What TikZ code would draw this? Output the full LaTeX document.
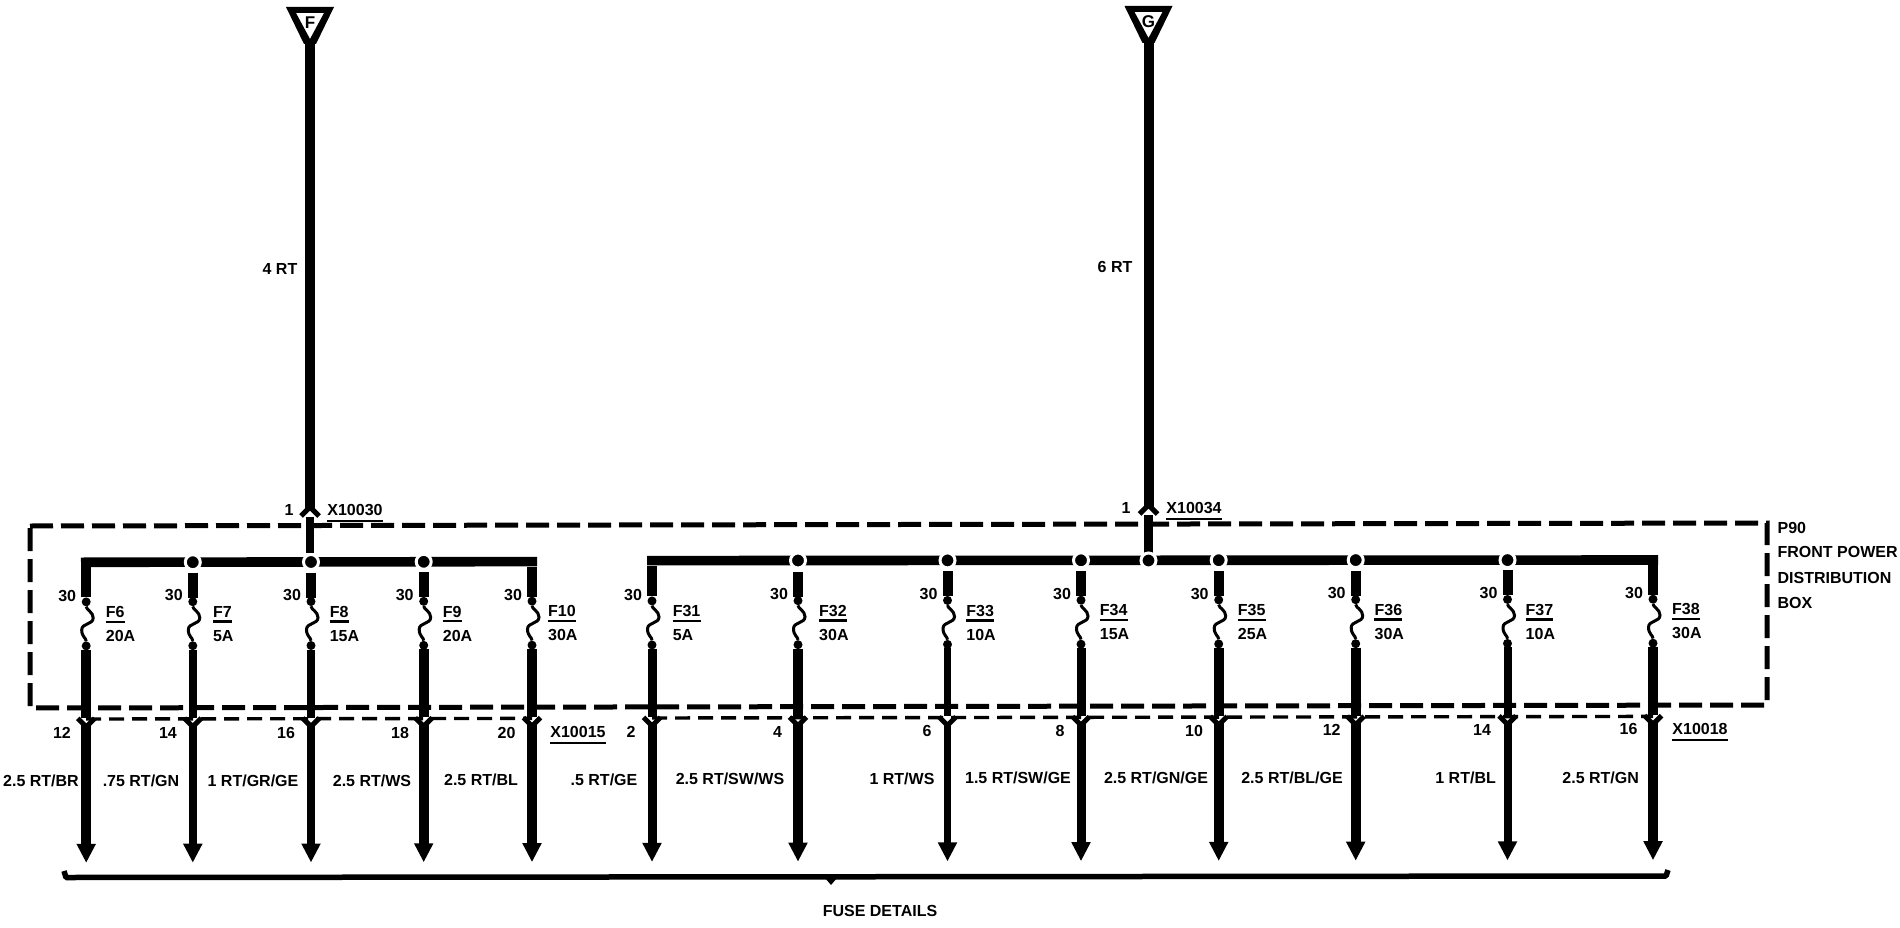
\documentclass[tikz,border=0pt]{standalone}
\usepackage{fontspec}
\setmainfont{Liberation Sans}
\usetikzlibrary{arrows.meta}
\tikzset{
  lab/.style={font=\fontsize{16}{16}\selectfont\bfseries,inner sep=0pt,text height=11.5pt,text depth=0pt},
  wire/.style={line width=#1,line cap=butt},
  wire/.default=10pt,
  feed/.style={wire=#1,-{Triangle[length=19pt,width=18pt]}},
  busline/.style={line width=9.6pt,line join=miter},
  jdot/.style={circle,fill=black,draw=white,line width=3pt,minimum size=15pt,inner sep=0pt},
  fdot/.style={circle,fill=black,minimum size=9pt,inner sep=0pt},
  link/.style={line width=3pt},
  boxdash/.style={line width=5pt,dash pattern=on 23pt off 8pt},
  pindash/.style={line width=3.4pt,dash pattern=on 15pt off 8pt},
  rulel/.style={line width=2.4pt},
  chev/.style={line width=5pt,line join=miter},
}
% id, x, lower wire width, fuse, rating, label offset, has junction dot
\newcommand\fusecol[7]{%
  \pgfmathsetmacro\sk{-3*(#2-30)/1740}
  \coordinate (bus#1) at (#2,{562+\sk});
  \coordinate (up#1) at (#2,{573+\sk});
  \coordinate (upe#1) at (#2,{598+\sk});
  \node[fdot] (ft#1) at (#2,{602+\sk}) {};
  \node[fdot] (fb#1) at (#2,{646+\sk}) {};
  \coordinate (lo#1) at (#2,{650+\sk});
  \coordinate (loe#1) at (#2,{718+\sk});
  \coordinate (yj#1) at (#2,{725+\sk});
  \coordinate (tip#1) at (#2,{863+\sk});
  \ifnum#7=1
    \draw[wire] (up#1) -- (upe#1);
  \fi
  \draw[link] (ft#1) .. controls (#2,{610+\sk}) and ({#2+7},{612+\sk}) .. ({#2+7},{618+\sk})
     .. controls ({#2+7},{625+\sk}) and ({#2-4.5},{623+\sk}) .. ({#2-4.5},{630+\sk})
     .. controls ({#2-4.5},{637+\sk}) and (#2,{638+\sk}) .. (fb#1);
  \draw[wire=#3] (lo#1) -- (loe#1);
  \draw[chev] ({#2-8.5},{718.5+\sk}) -- (#2,{727+\sk}) -- ({#2+8.5},{718.5+\sk});
  \draw[feed=#3] (yj#1) -- (tip#1);
  \node[lab] (th#1) at ({#2-19},{595.5+\sk}) {30};
  \node[lab,anchor=west] (fn#1) at ({#2+#6},{612+\sk}) {#4};
  \draw[rulel] ([yshift=-4pt]fn#1.south west) -- ([yshift=-4pt]fn#1.south east);
  \node[lab,anchor=west] (fr#1) at ({#2+#6},{636+\sk}) {#5};
}
% id, x, letter, top, chevron wing y
\newcommand\inpin[5]{%
  \fill[even odd rule] ({#2-24},#4) -- ({#2+24},#4) -- ({#2+6},{#4+37}) -- ({#2-6},{#4+37}) -- cycle
     ({#2-14},{#4+6}) -- ({#2+14},{#4+6}) -- (#2,{#4+32}) -- cycle;
  \node[lab,font=\fontsize{17}{17}\selectfont\bfseries] (t#1) at (#2,{#4+16}) {#3};
  \coordinate (w#1a) at (#2,{#4+35});
  \coordinate (w#1b) at (#2,{#5-6});
  \draw[wire] (w#1a) -- (w#1b);
  \draw[chev] ({#2-9},#5) -- (#2,{#5-9}) -- ({#2+9},#5);
  \coordinate (w#1c) at (#2,{#5+1});
  \coordinate (w#1d) at (#2,553);
  \draw[wire=8.5pt] (w#1c) -- (w#1d);
}
\begin{document}
\begin{tikzpicture}[x=1pt,y=-1pt]
\useasboundingbox (0,0) rectangle (1900,928);
\fill[white] (0,0) rectangle (1900,928);
% box
\coordinate (bxa) at (30,526);
\coordinate (bxb) at (1767,523);
\coordinate (bxc) at (1767,705);
\coordinate (bxd) at (30,708);
\draw[boxdash] (bxa) -- (bxb) -- (bxc) -- (bxd) -- cycle;
\draw[pindash] (86,719) -- (532,718.4);
\draw[pindash] (652,718) -- (1653,716.4);
% busses
\coordinate (b1a) at (86,597); \coordinate (b1b) at (86,562.3);
\coordinate (b1c) at (532,562); \coordinate (b1d) at (532,597);
\draw[wire] (b1a) -- (86,567);
\draw[wire] (b1d) -- (532,567);
\draw[busline] (81,562.3) -- (537,561.6);
\coordinate (b2a) at (652,596); \coordinate (b2d) at (1653,595);
\draw[wire] (b2a) -- (652,566);
\draw[wire] (b2d) -- (1653,565);
\draw[busline] (647,560.6) -- (1658,560);
% inputs
\inpin{F}{310}{F}{7}{516}
\inpin{G}{1148.5}{G}{6}{514}
% fuse columns
\fusecol{a}{86.2}{10pt}{F6}{20A}{19.5}{0}
\fusecol{b}{192.8}{8pt}{F7}{5A}{20}{1}
\fusecol{c}{311}{8pt}{F8}{15A}{18.6}{1}
\fusecol{d}{423.7}{10pt}{F9}{20A}{19}{1}
\fusecol{e}{532}{9.5pt}{F10}{30A}{16}{0}
\fusecol{f}{652}{9pt}{F31}{5A}{20.6}{0}
\fusecol{g}{798}{10pt}{F32}{30A}{21}{1}
\fusecol{h}{947.5}{7.5pt}{F33}{10A}{18.7}{1}
\fusecol{i}{1081}{9pt}{F34}{15A}{18.7}{1}
\fusecol{j}{1218.7}{10pt}{F35}{25A}{19}{1}
\fusecol{k}{1355.7}{10pt}{F36}{30A}{18.7}{1}
\fusecol{l}{1507.5}{8pt}{F37}{10A}{18}{1}
\fusecol{m}{1653}{10pt}{F38}{30A}{19}{0}
% junction dots
\foreach \n/\xx/\yy in {b/192.8/562.2,c/311/562,d/423.7/561.8,g/798/560.5,h/947.5/560.4,i/1081/560.3,gg/1148.5/560.5,j/1218.7/560.2,k/1355.7/560.1,l/1507.5/560.1}
  \node[jdot] (dot\n) at (\xx,\yy) {};
% connector labels
\node[lab] (p1) at (289,510) {1};
\node[lab] (xa) at (355,510) {X10030};
\draw[rulel] ([yshift=-5pt]xa.south west) -- ([yshift=-5pt]xa.south east);
\node[lab] (p2) at (1126,508) {1};
\node[lab] (xb) at (1194,508) {X10034};
\draw[rulel] ([yshift=-5pt]xb.south west) -- ([yshift=-5pt]xb.south east);
\node[lab] (xc) at (578,732) {X10015};
\draw[rulel] ([yshift=-5pt]xc.south west) -- ([yshift=-5pt]xc.south east);
\node[lab] (xd) at (1700,729) {X10018};
\draw[rulel] ([yshift=-5pt]xd.south west) -- ([yshift=-5pt]xd.south east);
\node[lab] (rt4) at (280,269) {4 RT};
\node[lab] (rt6) at (1115,267) {6 RT};
% pin numbers
\node[lab] (n12) at (62,733) {12};
\node[lab] (n14) at (168,733) {14};
\node[lab] (n16) at (286,733) {16};
\node[lab] (n18) at (400,733) {18};
\node[lab] (n20) at (506.6,732.5) {20};
\node[lab] (n2) at (631,731.7) {2};
\node[lab] (n4) at (777.5,731.5) {4};
\node[lab] (n6) at (927,731) {6};
\node[lab] (n8) at (1060,731) {8};
\node[lab] (n10) at (1194,730.5) {10};
\node[lab] (n12b) at (1331.7,730) {12};
\node[lab] (n14b) at (1482,730) {14};
\node[lab] (n16b) at (1628.5,729) {16};
% wire labels
\node[lab] (w1) at (41,780.7) {2.5 RT/BR};
\node[lab] (w2) at (141,780.7) {.75 RT/GN};
\node[lab] (w3) at (253,780.5) {1 RT/GR/GE};
\node[lab] (w4) at (372,780.3) {2.5 RT/WS};
\node[lab] (w5) at (481,780) {2.5 RT/BL};
\node[lab] (w6) at (604,779.5) {.5 RT/GE};
\node[lab] (w7) at (730,778.5) {2.5 RT/SW/WS};
\node[lab] (w8) at (902,778.3) {1 RT/WS};
\node[lab] (w9) at (1018,778) {1.5 RT/SW/GE};
\node[lab] (w10) at (1156,778) {2.5 RT/GN/GE};
\node[lab] (w11) at (1292,777.7) {2.5 RT/BL/GE};
\node[lab] (w12) at (1465.6,777.7) {1 RT/BL};
\node[lab] (w13) at (1600.7,777.7) {2.5 RT/GN};
% box labels
\node[lab,anchor=west] (box1) at (1777.4,528) {P90};
\node[lab,anchor=west] (box2) at (1777.4,552) {FRONT POWER};
\node[lab,anchor=west] (box3) at (1777.4,577.7) {DISTRIBUTION};
\node[lab,anchor=west] (box4) at (1777.4,602.7) {BOX};
% bracket
\coordinate (bra) at (64,871);
\coordinate (brb) at (66,877.5);
\coordinate (brc) at (1666,876);
\coordinate (brd) at (1668,870);
\draw[line width=5.5pt,line join=round] (bra) -- (brb) -- (brc) -- (brd);
\fill (825,878) -- (837,878) -- (831,885) -- cycle;
\node[lab] (fd) at (880,910.5) {FUSE DETAILS};
\end{tikzpicture}
\end{document}
